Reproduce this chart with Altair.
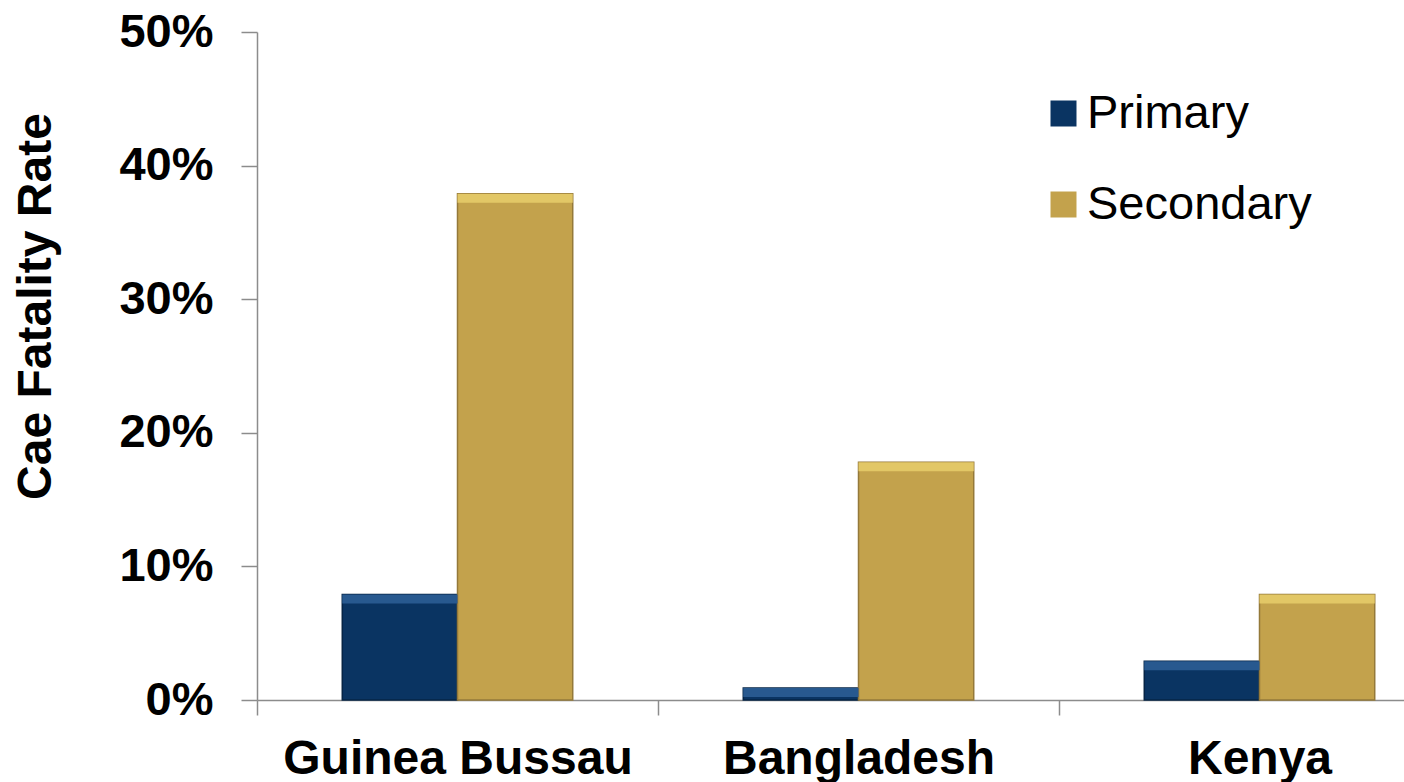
import altair as alt
import pandas as pd

# Case fatality rate by country, primary vs secondary cases (percent)
countries = ["Guinea Bussau", "Bangladesh", "Kenya"]
series = ["Primary", "Secondary"]
primary = [7.9, 0.9, 2.9]
secondary = [37.9, 17.8, 7.9]
y_ticks = [0, 10, 20, 30, 40, 50]

# Styling
fill_colors = ["#0a3462", "#c3a24c"]
top_colors = ["#28598f", "#e2c766"]
edge_colors = ["#062445", "#94793a"]
axis_gray = "#8c8c8c"
FONT = "Liberation Sans"

rows = []
for i, c in enumerate(countries):
    rows.append({"country": c, "type": "Primary", "rate": primary[i]})
    rows.append({"country": c, "type": "Secondary", "rate": secondary[i]})
df = pd.DataFrame(rows)

x_enc = alt.X(
    "country:N",
    sort=countries,
    scale=alt.Scale(range=[0, 1203], paddingInner=0, paddingOuter=0),
    axis=alt.Axis(
        title=None,
        tickBand="extent",
        domainColor=axis_gray,
        domainWidth=1.5,
        tickColor=axis_gray,
        tickWidth=1.5,
        tickSize=15,
        labelFont=FONT,
        labelFontSize=48,
        labelFontWeight="bold",
        labelColor="black",
        labelBaseline="alphabetic",
        labelPadding=58,
        labelAngle=0,
        labelLimit=0,
    ),
)
xo_enc = alt.XOffset(
    "type:N",
    sort=series,
    scale=alt.Scale(paddingInner=0, paddingOuter=0.74),
)
y_enc = alt.Y(
    "rate:Q",
    scale=alt.Scale(domain=[0, 50], nice=False),
    axis=alt.Axis(
        values=y_ticks,
        labelExpr="datum.value + '%'",
        title="Cae Fatality Rate",
        titleFont=FONT,
        titleFontSize=48,
        titleFontWeight="bold",
        titleColor="black",
        titleAngle=-90,
        titleAlign="center",
        titleBaseline="alphabetic",
        titleX=-207,
        titleY=274,
        titleLimit=0,
        domainColor=axis_gray,
        domainWidth=1.5,
        tickColor=axis_gray,
        tickWidth=1.5,
        tickSize=16,
        grid=False,
        labelFont=FONT,
        labelFontSize=47,
        labelFontWeight="bold",
        labelColor="black",
        labelPadding=28,
        labelBaseline="middle",
        labelLimit=0,
    ),
)

bars = alt.Chart(df).mark_bar(strokeWidth=1.5).encode(
    x=x_enc,
    xOffset=xo_enc,
    y=y_enc,
    color=alt.Color(
        "type:N",
        sort=series,
        scale=alt.Scale(domain=series, range=fill_colors),
        legend=alt.Legend(
            title=None,
            orient="none",
            legendX=783,
            legendY=58,
            labelFont=FONT,
            labelFontSize=47,
            labelColor="black",
            labelOffset=0,
            labelLimit=0,
            symbolType="square",
            symbolSize=676,
            symbolStrokeWidth=0,
            rowPadding=43,
            padding=0,
        ),
    ),
    stroke=alt.Stroke(
        "type:N",
        sort=series,
        scale=alt.Scale(domain=series, range=edge_colors),
        legend=None,
    ),
)

# lighter bevel strip along the top of each bar
tops = alt.Chart(df).mark_bar(y2Offset=9, xOffset=2, x2Offset=-2).encode(
    x=x_enc,
    xOffset=xo_enc,
    y=y_enc,
    y2=alt.Y2("rate:Q"),
    fill=alt.Fill(
        "type:N",
        sort=series,
        scale=alt.Scale(domain=series, range=top_colors),
        legend=None,
    ),
)

chart = (
    alt.layer(bars, tops)
    .properties(
        width=1147,
        height=668,
        autosize=alt.AutoSizeParams(type="none"),
        padding={"left": 257, "top": 32, "right": 0, "bottom": 82},
    )
    .configure_view(stroke=None)
)

chart.save("out.html", embed_options={"renderer": "svg", "actions": False})
